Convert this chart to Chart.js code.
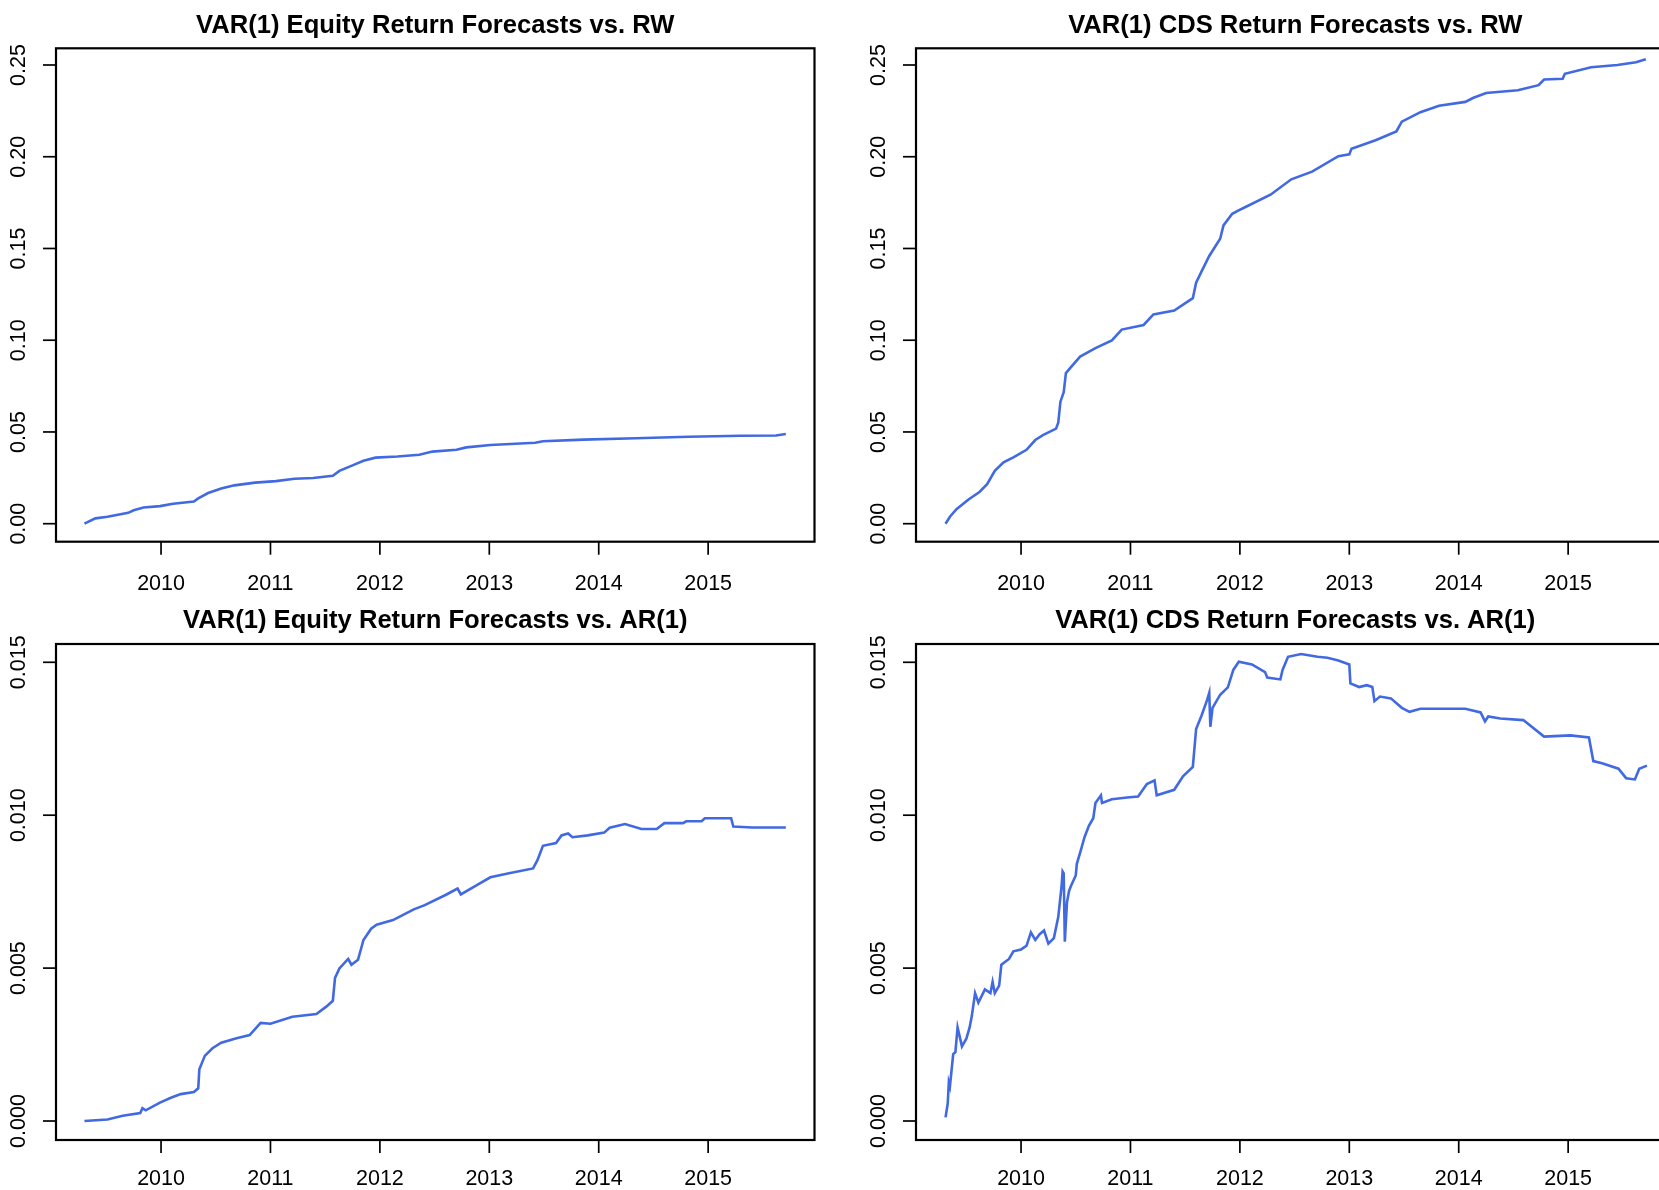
<!DOCTYPE html>
<html>
<head>
<meta charset="utf-8">
<script src="https://cdn.jsdelivr.net/npm/chart.js@4/dist/chart.umd.min.js"></script>
<style>
  html, body { margin: 0; padding: 0; background: #ffffff; overflow: hidden; width: 1659px; height: 1190px; }
  canvas { position: absolute; }
</style>
</head>
<body>
<canvas id="c1" width="830" height="595" style="left:0px;top:0px"></canvas>
<canvas id="c2" width="830" height="595" style="left:860px;top:0px"></canvas>
<canvas id="c3" width="830" height="595" style="left:0px;top:595px"></canvas>
<canvas id="c4" width="830" height="595" style="left:860px;top:595px"></canvas>
<script>
// Cumulative forecast-performance differences, dated in decimal years.

const eqRwYears = [2009.30, 2009.40, 2009.51, 2009.70, 2009.75, 2009.84, 2009.99, 2010.11, 2010.30, 2010.34,
  2010.43, 2010.55, 2010.67, 2010.86, 2011.05, 2011.22, 2011.39, 2011.57, 2011.63, 2011.75,
  2011.85, 2011.96, 2012.16, 2012.36, 2012.48, 2012.70, 2012.79, 2013.01, 2013.42, 2013.49,
  2013.86, 2014.34, 2014.82, 2015.30, 2015.62, 2015.71];
const eqRwValues = [0.0000, 0.0029, 0.0038, 0.0059, 0.0073, 0.0088, 0.0096, 0.0109, 0.0121, 0.0138,
  0.0167, 0.0192, 0.0209, 0.0224, 0.0232, 0.0245, 0.0249, 0.0261, 0.0288, 0.0318,
  0.0343, 0.0360, 0.0366, 0.0376, 0.0393, 0.0403, 0.0416, 0.0429, 0.0441, 0.0449,
  0.0458, 0.0466, 0.0474, 0.0479, 0.0481, 0.0489];

const cdsRwYears = [2009.31, 2009.35, 2009.41, 2009.52, 2009.62, 2009.69, 2009.76, 2009.84, 2009.93, 2010.05,
  2010.13, 2010.20, 2010.32, 2010.34, 2010.36, 2010.39, 2010.41, 2010.47, 2010.54, 2010.68,
  2010.83, 2010.92, 2011.12, 2011.21, 2011.40, 2011.57, 2011.60, 2011.65, 2011.72, 2011.82,
  2011.85, 2011.93, 2012.01, 2012.28, 2012.47, 2012.66, 2012.90, 2013.00, 2013.02, 2013.24,
  2013.43, 2013.48, 2013.65, 2013.82, 2014.06, 2014.13, 2014.25, 2014.54, 2014.73, 2014.78,
  2014.95, 2014.97, 2015.21, 2015.45, 2015.62, 2015.71];
const cdsRwValues = [0.0000, 0.0038, 0.0079, 0.0132, 0.0173, 0.0215, 0.0288, 0.0334, 0.0362, 0.0403,
  0.0456, 0.0483, 0.0518, 0.0550, 0.0665, 0.0717, 0.0821, 0.0863, 0.0911, 0.0957,
  0.0999, 0.1058, 0.1083, 0.1141, 0.1162, 0.1229, 0.1313, 0.1375, 0.1459, 0.1553,
  0.1626, 0.1689, 0.1714, 0.1793, 0.1877, 0.1919, 0.2003, 0.2013, 0.2044, 0.2090,
  0.2138, 0.2191, 0.2243, 0.2278, 0.2299, 0.2320, 0.2347, 0.2362, 0.2390, 0.2421,
  0.2425, 0.2452, 0.2488, 0.2500, 0.2515, 0.2531];

const eqArYears = [2009.30, 2009.51, 2009.65, 2009.81, 2009.83, 2009.86, 2009.99, 2010.09, 2010.18, 2010.30,
  2010.34, 2010.35, 2010.40, 2010.47, 2010.55, 2010.69, 2010.81, 2010.91, 2011.00, 2011.20,
  2011.42, 2011.51, 2011.57, 2011.59, 2011.63, 2011.71, 2011.74, 2011.80, 2011.85, 2011.92,
  2011.97, 2012.12, 2012.31, 2012.41, 2012.60, 2012.71, 2012.74, 2012.89, 2013.01, 2013.18,
  2013.40, 2013.44, 2013.49, 2013.61, 2013.66, 2013.72, 2013.76, 2013.90, 2014.05, 2014.10,
  2014.24, 2014.39, 2014.53, 2014.60, 2014.77, 2014.80, 2014.94, 2014.97, 2015.21, 2015.23,
  2015.40, 2015.71];
const eqArValues = [0.00000, 0.00005, 0.00017, 0.00026, 0.00042, 0.00035, 0.00060, 0.00076, 0.00088, 0.00095,
  0.00107, 0.00169, 0.00213, 0.00238, 0.00256, 0.00271, 0.00281, 0.00321, 0.00318, 0.00341,
  0.00350, 0.00374, 0.00393, 0.00468, 0.00499, 0.00530, 0.00511, 0.00527, 0.00592, 0.00629,
  0.00642, 0.00657, 0.00692, 0.00706, 0.00739, 0.00760, 0.00741, 0.00772, 0.00797, 0.00810,
  0.00826, 0.00853, 0.00900, 0.00909, 0.00934, 0.00940, 0.00928, 0.00934, 0.00943, 0.00959,
  0.00971, 0.00955, 0.00955, 0.00974, 0.00974, 0.00980, 0.00980, 0.00990, 0.00990, 0.00963,
  0.00960, 0.00960];

const cdsArYears = [2009.31, 2009.33, 2009.34, 2009.35, 2009.38, 2009.40, 2009.42, 2009.46, 2009.50, 2009.53,
  2009.55, 2009.58, 2009.61, 2009.67, 2009.72, 2009.74, 2009.76, 2009.80, 2009.82, 2009.89,
  2009.93, 2010.00, 2010.05, 2010.09, 2010.13, 2010.17, 2010.21, 2010.25, 2010.30, 2010.34,
  2010.37, 2010.38, 2010.39, 2010.40, 2010.42, 2010.44, 2010.46, 2010.50, 2010.51, 2010.55,
  2010.58, 2010.62, 2010.66, 2010.68, 2010.73, 2010.74, 2010.83, 2010.97, 2011.07, 2011.15,
  2011.22, 2011.24, 2011.40, 2011.48, 2011.57, 2011.60, 2011.65, 2011.70, 2011.72, 2011.73,
  2011.75, 2011.82, 2011.89, 2011.94, 2011.99, 2012.11, 2012.23, 2012.25, 2012.37, 2012.39,
  2012.44, 2012.56, 2012.71, 2012.80, 2012.90, 2013.00, 2013.01, 2013.09, 2013.16, 2013.21,
  2013.23, 2013.28, 2013.38, 2013.48, 2013.55, 2013.65, 2014.06, 2014.20, 2014.24, 2014.27,
  2014.38, 2014.59, 2014.78, 2015.02, 2015.19, 2015.23, 2015.31, 2015.46, 2015.53, 2015.61,
  2015.65, 2015.72];
const cdsArValues = [0.00012, 0.00057, 0.00126, 0.00113, 0.00219, 0.00225, 0.00306, 0.00244, 0.00269, 0.00306,
  0.00343, 0.00418, 0.00387, 0.00430, 0.00418, 0.00455, 0.00418, 0.00443, 0.00511, 0.00530,
  0.00555, 0.00561, 0.00573, 0.00617, 0.00592, 0.00611, 0.00623, 0.00580, 0.00598, 0.00667,
  0.00766, 0.00816, 0.00810, 0.00586, 0.00716, 0.00754, 0.00772, 0.00803, 0.00841, 0.00890,
  0.00928, 0.00965, 0.00990, 0.01040, 0.01065, 0.01040, 0.01052, 0.01058, 0.01061, 0.01102,
  0.01114, 0.01065, 0.01083, 0.01127, 0.01158, 0.01282, 0.01326, 0.01376, 0.01400, 0.01289,
  0.01351, 0.01394, 0.01418, 0.01475, 0.01502, 0.01493, 0.01468, 0.01450, 0.01444, 0.01475,
  0.01518, 0.01527, 0.01518, 0.01515, 0.01506, 0.01493, 0.01431, 0.01419, 0.01425, 0.01419,
  0.01373, 0.01388, 0.01382, 0.01351, 0.01338, 0.01348, 0.01348, 0.01336, 0.01307, 0.01323,
  0.01316, 0.01311, 0.01257, 0.01261, 0.01254, 0.01177, 0.01170, 0.01152, 0.01121, 0.01117,
  0.01152, 0.01162];

// Axis ticks
const yearTicks = [2010, 2011, 2012, 2013, 2014, 2015];
const yearLabels = ['2010', '2011', '2012', '2013', '2014', '2015'];
const rwTicks = [0, 0.05, 0.10, 0.15, 0.20, 0.25];
const rwLabels = ['0.00', '0.05', '0.10', '0.15', '0.20', '0.25'];
const arTicks = [0, 0.005, 0.010, 0.015];
const arLabels = ['0.000', '0.005', '0.010', '0.015'];

const FONT = '"Liberation Sans", Arial, Helvetica, sans-serif';

// Base-graphics style frame: box, outward ticks, rotated y labels, bold title
const framePlugin = {
  id: 'baseFrame',
  afterDraw(chart) {
    const o = chart.options.plugins.baseFrame;
    const ctx = chart.ctx;
    const a = chart.chartArea;
    const xs = chart.scales.x, ys = chart.scales.y;
    ctx.save();
    ctx.strokeStyle = '#000';
    ctx.fillStyle = '#000';
    // box
    ctx.lineWidth = 2.2;
    ctx.strokeRect(a.left, a.top, a.right - a.left, a.bottom - a.top);
    // x axis ticks + labels
    ctx.lineWidth = 1.7;
    ctx.font = '21.5px ' + FONT;
    ctx.textAlign = 'center';
    ctx.textBaseline = 'alphabetic';
    yearTicks.forEach((t, i) => {
      const px = xs.getPixelForValue(t);
      ctx.beginPath();
      ctx.moveTo(px, a.bottom);
      ctx.lineTo(px, a.bottom + 13);
      ctx.stroke();
      ctx.fillText(yearLabels[i], px, a.bottom + o.xLabelOffset);
    });
    // y axis ticks + rotated labels
    o.yTicks.forEach((t, i) => {
      const py = ys.getPixelForValue(t);
      ctx.beginPath();
      ctx.moveTo(a.left - 13, py);
      ctx.lineTo(a.left, py);
      ctx.stroke();
      ctx.save();
      ctx.translate(a.left - 31, py);
      ctx.rotate(-Math.PI / 2);
      ctx.fillText(o.yLabels[i], 0, 0);
      ctx.restore();
    });
    // title
    ctx.font = 'bold 25.6px ' + FONT;
    ctx.fillText(o.title, (a.left + a.right) / 2, o.titleY);
    ctx.restore();
  }
};

function panel(id, title, years, values, yMin, yMax, yTicks, yLabels, pad, titleY, xLabelOffset) {
  const pts = years.map((x, i) => ({ x: x, y: values[i] }));
  new Chart(document.getElementById(id), {
    type: 'line',
    data: {
      datasets: [{
        data: pts,
        borderColor: '#4169E1',
        borderWidth: 2.6,
        pointRadius: 0,
        tension: 0,
        fill: false
      }]
    },
    options: {
      responsive: false,
      animation: false,
      layout: { padding: pad },
      scales: {
        x: { type: 'linear', min: 2009.04, max: 2015.972, display: false },
        y: { type: 'linear', min: yMin, max: yMax, display: false }
      },
      plugins: {
        legend: { display: false },
        tooltip: { enabled: false },
        baseFrame: { title: title, yTicks: yTicks, yLabels: yLabels, titleY: titleY, xLabelOffset: xLabelOffset }
      }
    },
    plugins: [framePlugin]
  });
}

const padTop = { left: 56, right: 15.5, top: 48.3, bottom: 53.3 };
const padBottom = { left: 56, right: 15.5, top: 49, bottom: 50 };

panel('c1', 'VAR(1) Equity Return Forecasts vs. RW', eqRwYears, eqRwValues,
  -0.00981, 0.2591, rwTicks, rwLabels, padTop, 32.5, 47.8);
panel('c2', 'VAR(1) CDS Return Forecasts vs. RW', cdsRwYears, cdsRwValues,
  -0.00981, 0.2591, rwTicks, rwLabels, padTop, 32.5, 47.8);
panel('c3', 'VAR(1) Equity Return Forecasts vs. AR(1)', eqArYears, eqArValues,
  -0.000621, 0.015598, arTicks, arLabels, padBottom, 33, 45);
panel('c4', 'VAR(1) CDS Return Forecasts vs. AR(1)', cdsArYears, cdsArValues,
  -0.000621, 0.015598, arTicks, arLabels, padBottom, 33, 45);
</script>
</body>
</html>
